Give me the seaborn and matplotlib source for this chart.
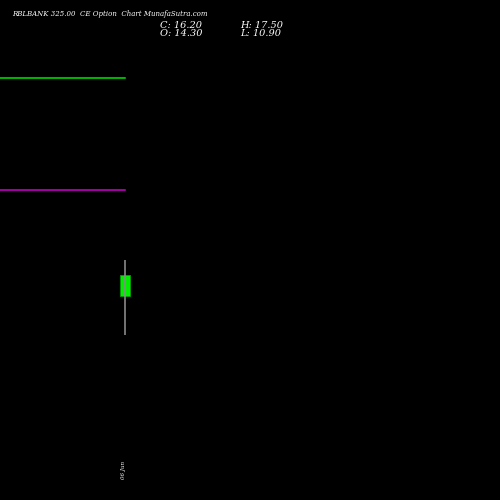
import matplotlib
matplotlib.use("Agg")
import matplotlib.pyplot as plt
import seaborn as sns

# candle data
dates = ["06 Jun"]
opens = [14.30]
highs = [17.50]
lows = [10.90]
closes = [16.20]
# reference levels
green_level = 33.5
purple_level = 23.65

sns.set_style("dark")
fig = plt.figure(figsize=(5, 5), dpi=100, facecolor="black")
ax = fig.add_axes([0, 0, 1, 1])
ax.set_facecolor("black")

ax.plot([-1, 0], [green_level, green_level], color="#00b000", lw=1.5)
ax.plot([-1, 0], [purple_level, purple_level], color="#a000a0", lw=1.5)

for i, d in enumerate(dates):
    ax.vlines(i, lows[i], highs[i], color="#888888", lw=1.2)
    color = "#00ee00" if closes[i] >= opens[i] else "#ee0000"
    lo, hi = sorted([opens[i], closes[i]])
    ax.bar(i, hi - lo, bottom=lo, width=0.08, color=color, edgecolor="#00aa00", lw=0.5)
    ax.text(i - 0.01, -1.0, d, color="white", fontsize=4, rotation=90, ha="center", va="center",
            family="serif", style="italic")

ax.set_xlim(-1, 3)
ax.set_ylim(-3.63, 40.39)
ax.set_xticks([])
ax.set_yticks([])
for s in ax.spines.values():
    s.set_visible(False)

fig.text(0.024, 0.972, "RBLBANK 325.00  CE Option  Chart MunafaSutra.com", color="white",
         fontsize=5, family="serif", style="italic", va="center")
fig.text(0.32, 0.949, "C: 16.20", color="white", fontsize=7, family="serif", style="italic", va="center")
fig.text(0.32, 0.932, "O: 14.30", color="white", fontsize=7, family="serif", style="italic", va="center")
fig.text(0.48, 0.949, "H: 17.50", color="white", fontsize=7, family="serif", style="italic", va="center")
fig.text(0.48, 0.932, "L: 10.90", color="white", fontsize=7, family="serif", style="italic", va="center")

fig.savefig("out.png", facecolor="black")
